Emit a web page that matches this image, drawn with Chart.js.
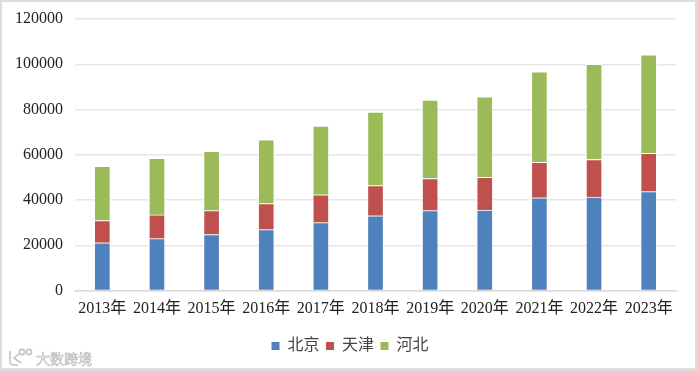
<!DOCTYPE html>
<html>
<head>
<meta charset="utf-8">
<script src="https://cdn.jsdelivr.net/npm/chart.js@4"></script>
<style>
    html, body { margin: 0; padding: 0; background: #fff; }
    #frame { position: relative; width: 698px; height: 371px; box-sizing: border-box; overflow: hidden;
        border: solid #dcdcdc; border-width: 2px 3px 3px 2px; }
    #chart { position: absolute; left: -2px; top: -2px; }
    #mark { position: absolute; left: 34px; top: 346px; font: 14px "Noto Sans CJK SC", sans-serif; color: #fff;
        -webkit-text-stroke: 0.6px #b5b5b5; filter: blur(0.3px); }
    #logo { position: absolute; left: 5px; top: 345px; filter: blur(0.3px); }
</style>
</head>
<body>
<div id="frame">
    <canvas id="chart" width="698" height="371"></canvas>
    <svg id="logo" width="28" height="20" fill="none" stroke="#c4c4c4" stroke-width="1.6">
        <path d="M3 4 V15 Q3 18 7 18 H11"/>
        <path d="M13 6 L7 11 L14 16"/>
        <circle cx="15" cy="5" r="2.6"/>
        <circle cx="22" cy="5" r="2.6"/>
    </svg>
    <div id="mark">大数跨境</div>
</div>
<script>
var years = ['2013年', '2014年', '2015年', '2016年', '2017年', '2018年', '2019年', '2020年', '2021年', '2022年', '2023年'];
var yTicks = [0, 20000, 40000, 60000, 80000, 100000, 120000];
var beijing = [21100, 22900, 24700, 26900, 30000, 33000, 35300, 35600, 41000, 41300, 43700];
var tianjin = [9800, 10500, 10600, 11500, 12300, 13400, 14200, 14400, 15700, 16600, 16900];
var hebei = [24000, 25000, 26200, 28200, 30400, 32500, 34700, 35600, 40000, 42100, 43600];

var textFont = '"Liberation Serif", "Noto Sans CJK SC", serif';

function series(label, data, color) {
    return {
        label: label,
        data: data,
        backgroundColor: color,
        borderColor: '#fff',
        borderWidth: 1,
        barThickness: 16
    };
}

// legend sits centred on the whole picture, not on the padded box
var centerLegend = {
    id: 'centerLegend',
    afterLayout: function (chart) {
        chart.legend.left += 12;
        chart.legend.right += 12;
    }
};

new Chart(document.getElementById('chart').getContext('2d'), {
    type: 'bar',
    data: {
        labels: years,
        datasets: [
            series('北京', beijing, '#4f81bd'),
            series('天津', tianjin, '#c0504d'),
            series('河北', hebei, '#9bbb59')
        ]
    },
    plugins: [centerLegend],
    options: {
        responsive: false,
        animation: false,
        layout: { padding: { left: 0, right: 22, top: 19, bottom: 7 } },
        scales: {
            x: {
                stacked: true,
                afterFit: function (scale) { scale.height = 41; },
                grid: { display: false },
                border: { color: '#d9d9d9', width: 1.5 },
                ticks: { color: '#222', font: { family: textFont, size: 16 }, maxRotation: 0, autoSkip: false, padding: 1 }
            },
            y: {
                stacked: true,
                min: 0,
                max: 120000,
                afterFit: function (scale) {
                    scale.width = 75;
                    scale.paddingTop = 0;
                    scale.paddingBottom = 0;
                },
                afterBuildTicks: function (scale) {
                    scale.ticks = yTicks.map(function (v) { return { value: v }; });
                },
                grid: { color: '#e6e6e6', lineWidth: 1.5, drawTicks: false },
                border: { display: false },
                ticks: {
                    color: '#222',
                    font: { family: textFont, size: 16 },
                    padding: 12,
                    callback: function (value) { return String(value); }
                }
            }
        },
        plugins: {
            tooltip: { enabled: false },
            legend: {
                position: 'bottom',
                labels: {
                    color: '#444',
                    font: { family: textFont, size: 16 },
                    boxWidth: 8,
                    boxHeight: 8,
                    padding: 6.5,
                    generateLabels: function (chart) {
                        return chart.data.datasets.map(function (ds, i) {
                            return { text: ds.label, fillStyle: ds.backgroundColor, strokeStyle: ds.backgroundColor, lineWidth: 0, datasetIndex: i, fontColor: '#444' };
                        });
                    }
                }
            }
        }
    }
});
</script>
</body>
</html>
